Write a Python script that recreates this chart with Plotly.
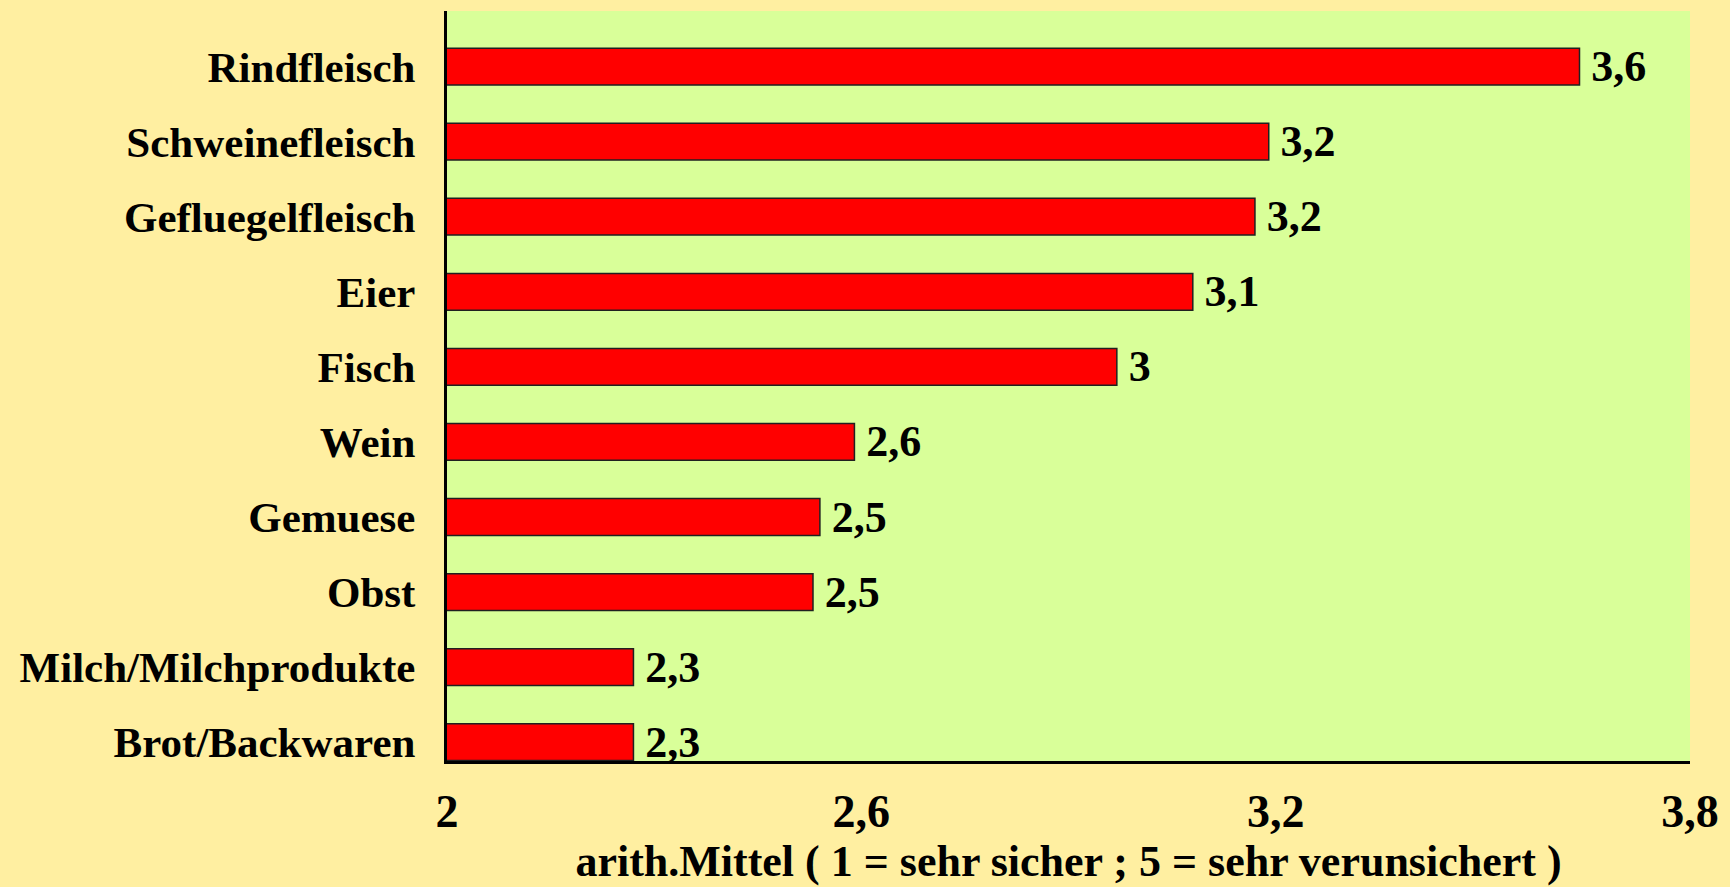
import plotly.graph_objects as go

categories = ["Brot/Backwaren", "Milch/Milchprodukte", "Obst", "Gemuese", "Wein",
              "Fisch", "Eier", "Gefluegelfleisch", "Schweinefleisch", "Rindfleisch"]
values = [2.27, 2.27, 2.53, 2.54, 2.59, 2.97, 3.08, 3.17, 3.19, 3.64]
x_ticks = [2, 2.6, 3.2, 3.8]
x_tick_labels = ["2", "2,6", "3,2", "3,8"]
x_title = "arith.Mittel ( 1 = sehr sicher ; 5 = sehr verunsichert )"


def fmt(v):
    return f"{round(v, 1):g}".replace(".", ",")


labels = ["\u2009" + fmt(v) for v in values]

FONT = "Liberation Serif, Times New Roman, serif"
PAPER = "#FFEFA1"

fig = go.Figure()
fig.add_trace(go.Bar(
    y=categories, x=values, base=0, orientation="h",
    marker=dict(color="#FF0000", line=dict(color="#202020", width=1.5)),
    width=0.49,
    text=labels, textposition="outside", cliponaxis=False,
    constraintext="none",
    textfont=dict(family=FONT, size=44, color="black", weight="bold"),
    hoverinfo="skip",
))

fig.update_layout(
    width=1730, height=887,
    paper_bgcolor=PAPER,
    plot_bgcolor="#D9FF99",
    margin=dict(l=447, r=38, t=11, b=114),
    showlegend=False,
    font=dict(family=FONT, color="black", weight="bold"),
    xaxis=dict(
        range=[2, 3.8], tickvals=x_ticks, ticktext=x_tick_labels,
        showgrid=False, zeroline=False,
        showline=True, linecolor="black", linewidth=3,
        ticks="", ticklabelstandoff=8,
        tickfont=dict(family=FONT, size=46, weight="bold"),
        title=dict(text=x_title, font=dict(family=FONT, size=44, weight="bold"), standoff=8),
    ),
    yaxis=dict(
        type="category", range=[-0.25, 9.74],
        showgrid=False, zeroline=False,
        showline=True, linecolor="black", linewidth=3,
        ticks="", ticklabelstandoff=20,
        tickfont=dict(family=FONT, size=43, weight="bold"),
    ),
)

fig.write_html(
    "out.html",
    config={"displayModeBar": False},
    post_script="document.body.style.margin='0';document.body.style.background='" + PAPER + "';",
)
